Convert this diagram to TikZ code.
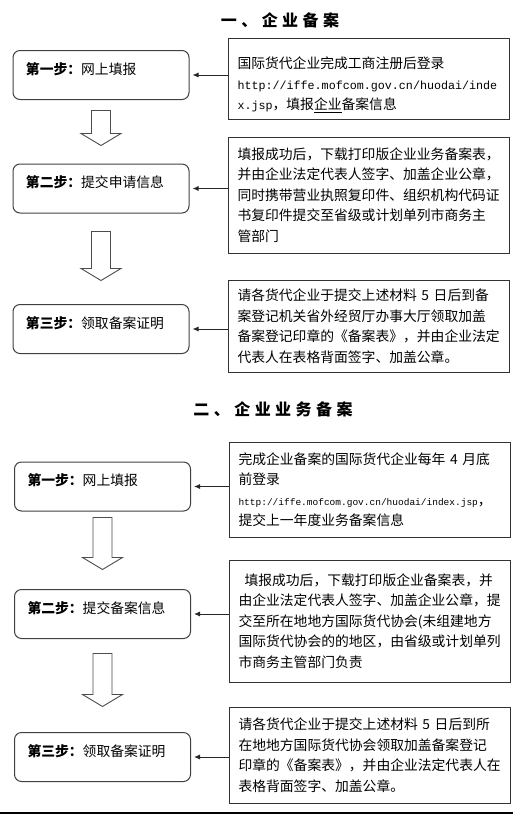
\documentclass[tikz,border=0pt]{standalone}
\usepackage{fontspec}
\setmainfont{Noto Sans CJK SC}
\setmonofont{Liberation Mono}
\newfontfamily\titlefont[LetterSpace=28]{Noto Sans CJK SC}
\usetikzlibrary{arrows.meta,calc}

\tikzset{
  stepbox/.style={draw=black!75, line width=1pt, rounded corners=7pt,
    minimum width=176pt, minimum height=49pt, text width=150pt,
    inner xsep=13pt, inner ysep=0pt, text height=11pt, text depth=13pt,
    align=left, font=\fontsize{13.8pt}{20.5pt}\selectfont},
  notebox/.style={draw=black!80, line width=1pt, text width=262pt,
    inner xsep=9.5pt, inner ysep=0pt, align=left,
    font=\fontsize{13.8pt}{20.5pt}\selectfont},
  feed/.style={draw=black!85, line width=0.9pt, -{Latex[length=6pt,width=5pt]}, shorten >=3pt},
  blockarrow/.style={draw=black!70, line width=0.9pt, fill=white},
  heading/.style={font=\titlefont\bfseries\fontsize{16pt}{18pt}\selectfont}
}

\begin{document}
\begin{tikzpicture}[x=1pt,y=-1pt]

% page frame (pixel units, y downwards)
\useasboundingbox (0,0) rectangle (520,815);

% ---- part one ----
\node[heading] (head1) at (280,20) {一、企业备案};

% steps on the left
\node[stepbox] (a1) at (101,75) {\textbf{第一步：}网上填报};
\node[stepbox] (a2) at (101,188.5) {\textbf{第二步：}提交申请信息};
\node[stepbox] (a3) at (101,329) {\textbf{第三步：}领取备案证明};

% notes on the right
\node[notebox, minimum height=81pt] (n1) at (368.5,78.5) {\rule{0pt}{24pt}国际货代企业完成工商注册后登录\\
  {\ttfamily\fontsize{11.7pt}{20.5pt}\selectfont http://iffe.mofcom.gov.cn/huodai/inde}\\
  {\ttfamily\fontsize{11.7pt}{20.5pt}\selectfont x.jsp}，填报\underline{企业}备案信息};
\node[notebox, minimum height=116pt] (n2) at (368.5,195) {填报成功后，下载打印版企业业务备案表，\\
  并由企业法定代表人签字、加盖企业公章，\\
  同时携带营业执照复印件、组织机构代码证\\
  书复印件提交至省级或计划单列市商务主\\
  管部门};
\node[notebox, minimum height=92pt] (n3) at (368.5,326) {请各货代企业于提交上述材料 5 日后到备\\
  案登记机关省外经贸厅办事大厅领取加盖\\
  备案登记印章的《备案表》，并由企业法定\\
  代表人在表格背面签字、加盖公章。};

% ---- part two ----
\node[heading] (head2) at (273,409) {二、企业业务备案};

\node[stepbox] (b1) at (102.5,486.5) {\textbf{第一步：}网上填报};
\node[stepbox] (b2) at (102.5,614) {\textbf{第二步：}提交备案信息};
\node[stepbox] (b3) at (102.5,757) {\textbf{第三步：}领取备案证明};

\node[notebox, minimum height=95pt] (m1) at (369.5,489.5) {完成企业备案的国际货代企业每年 4 月底\\
  前登录\\
  {\ttfamily\fontsize{9.5pt}{20.5pt}\selectfont http://iffe.mofcom.gov.cn/huodai/index.jsp}，\\
  提交上一年度业务备案信息};
\node[notebox, minimum height=122pt] (m2) at (369.5,621) {\hspace*{6pt}填报成功后，下载打印版企业备案表，并\\
  由企业法定代表人签字、加盖企业公章，提\\
  交至所在地地方国际货代协会(未组建地方\\
  国际货代协会的的地区，由省级或计划单列\\
  市商务主管部门负责};
\node[notebox, minimum height=96pt] (m3) at (369.5,755) {请各货代企业于提交上述材料 5 日后到所\\
  在地地方国际货代协会领取加盖备案登记\\
  印章的《备案表》，并由企业法定代表人在\\
  表格背面签字、加盖公章。};

% small arrows from notes to steps
\foreach \n/\s in {n1/a1,n2/a2,n3/a3,m1/b1,m2/b2,m3/b3}
  \draw[feed] (\n.west |- \s.east) -- (\s.east);

% hollow arrows between steps
\foreach \from/\to/\ga/\gb in {a1/a2/10.5/18, a2/a3/18/23.5, b1/b2/6/19.5, b2/b3/14.5/25.5}
{
  \coordinate (top) at ($(\from.south)+(0,\ga)$);
  \coordinate (tip) at ($(\to.north)-(0,\gb)$);
  \draw[blockarrow] ($(top)+(-9.5,0)$) -- ($(top)+(9.5,0)$) -- ($(tip)+(9.5,-12)$)
    -- ($(tip)+(20,-12)$) -- (tip) -- ($(tip)+(-20,-12)$) -- ($(tip)+(-9.5,-12)$) -- cycle;
}

% rule at the bottom
\draw[line width=2pt] (0,813) -- (513,813);

\end{tikzpicture}
\end{document}
